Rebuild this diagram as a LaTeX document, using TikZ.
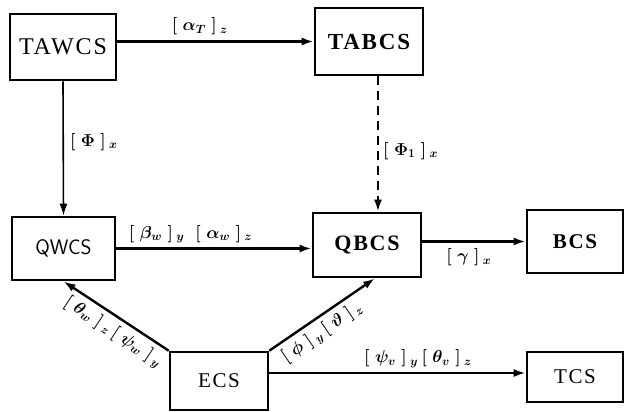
\documentclass[tikz,border=0pt]{standalone}
\usepackage{fontspec}
\setmainfont{Liberation Serif}
\usetikzlibrary{arrows.meta}
\newcommand{\csfont}[1]{\fontsize{#1}{#1}\selectfont\addfontfeature{LetterSpace=8}}
\begin{document}
\begin{tikzpicture}[x=1pt,y=-1pt,
  csbox/.style={draw,line width=2.6pt,inner sep=0pt},
  link/.style={line width=2.4pt,-{Latex[length=12pt,width=8pt]}},
  lbl/.style={font=\fontsize{18}{20}\selectfont\boldmath,inner sep=1pt}]
\useasboundingbox (0,0) rectangle (624,412);

% coordinate-system boxes
\node[csbox,minimum width=106pt,minimum height=66pt] (TAWCS) at (63,47) {\csfont{24}TAWCS};
\node[csbox,minimum width=108pt,minimum height=67pt] (TABCS) at (369,41.5) {\csfont{23}\bfseries TABCS};
\node[csbox,minimum width=103pt,minimum height=63pt] (QWCS) at (63.5,248.5) {\sffamily\fontsize{21}{21}\selectfont QWCS};
\node[csbox,minimum width=108pt,minimum height=64pt] (QBCS) at (367,245) {\csfont{22}\bfseries QBCS};
\node[csbox,minimum width=96pt,minimum height=63pt] (BCS) at (575,241.5) {\csfont{21}\bfseries BCS};
\node[csbox,minimum width=96pt,minimum height=50pt] (TCS) at (575,377) {\csfont{21}TCS};
\node[csbox,minimum width=98pt,minimum height=58pt] (ECS) at (219,381) {\csfont{21}ECS};

% transformations
\draw[link,-{Latex[open,length=12pt,width=8pt]}] (TAWCS.east |- TABCS.west) -- node[lbl,above=4pt,pos=0.42] {$[\;\alpha_T\;]\,_z$} (TABCS.west);
\draw[link,line width=1.6pt] (TAWCS.south) -- node[lbl,right=5pt,pos=0.45] {$[\;\Phi\;]\,_x$} (QWCS.north);
\draw[link,dash pattern=on 9pt off 6pt] ([xshift=9pt]TABCS.south) -- node[lbl,right=3pt,pos=0.55] {$[\;\Phi_1\;]\,_x$} ([xshift=9pt]TABCS.south |- QBCS.north);
\draw[link] (QWCS.east) -- node[lbl,above=3pt,pos=0.38] {$[\;\beta_w\;]\,_y\;\;[\;\alpha_w\;]\,_z$} (QWCS.east -| QBCS.west);
\draw[link] (QBCS.east |- BCS.west) -- node[lbl,below=5pt,pos=0.45] {$[\;\gamma\;]\,_x$} (BCS.west);
\draw[link] ([yshift=8pt]ECS.east) -- node[lbl,above=3pt,pos=0.58] {$[\;\psi_v\;]\,_y\,[\;\theta_v\;]\,_z$} ([yshift=8pt]ECS.east -| TCS.west);
\draw[link] (ECS.north west) -- node[lbl,sloped,below=4pt,pos=0.45] {$[\;\theta_w\;]\,_z\,[\;\psi_w\;]\,_y$} (QWCS.south);
\draw[link] (ECS.north east) -- node[lbl,sloped,below=4pt,pos=0.42] {$[\;\phi\;]\,_y\,[\;\vartheta\;]\,_z$} ([xshift=8pt]QBCS.south);
\end{tikzpicture}
\end{document}
